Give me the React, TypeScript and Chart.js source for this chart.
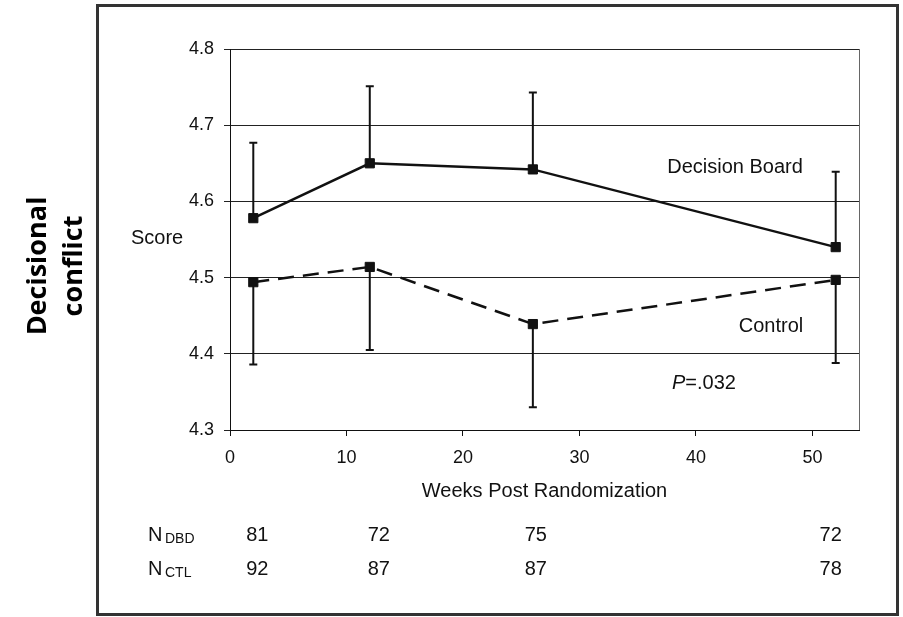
import React, { useEffect, useRef } from "react";
import { Chart, registerables } from "chart.js";

Chart.register(...registerables);

// ---- data ----
const WEEKS = [2, 12, 26, 52];
const DB_MEAN = [4.578, 4.65, 4.642, 4.54];
const DB_ERR = [0.099, 0.101, 0.101, 0.099];
const CTL_MEAN = [4.494, 4.514, 4.439, 4.497];
const CTL_ERR = [0.108, 0.109, 0.109, 0.109];
const N_DBD = [81, 72, 75, 72];
const N_CTL = [92, 87, 87, 78];
const X_TICKS = [0, 10, 20, 30, 40, 50];
const Y_TICKS = [4.3, 4.4, 4.5, 4.6, 4.7, 4.8];

const FONT = "'Liberation Sans', Arial, sans-serif";
const N_COL_SHIFT = [4, 9, 3, -5];

const errorBars = {
  id: "errorBars",
  beforeDatasetsDraw(chart: any) {
    const { ctx } = chart;
    const yScale = chart.scales.y;
    chart.data.datasets.forEach((ds: any, d: number) => {
      const meta = chart.getDatasetMeta(d);
      ctx.save();
      ctx.strokeStyle = "#111";
      ctx.lineWidth = 2;
      meta.data.forEach((pt: any, j: number) => {
        const v = ds.data[j].y + ds.errDir * ds.errors[j];
        const y1 = yScale.getPixelForValue(v);
        ctx.beginPath();
        ctx.moveTo(pt.x, pt.y);
        ctx.lineTo(pt.x, y1);
        ctx.moveTo(pt.x - 4, y1);
        ctx.lineTo(pt.x + 4, y1);
        ctx.stroke();
      });
      ctx.restore();
    });
  },
};

const decor = {
  id: "decor",
  beforeDraw(chart: any) {
    const { ctx, width, height } = chart;
    ctx.save();
    ctx.fillStyle = "#fff";
    ctx.fillRect(0, 0, width, height);
    ctx.restore();
  },
  afterDraw(chart: any) {
    const { ctx, chartArea } = chart;
    const xs = chart.scales.x;
    ctx.save();
    // right border of plot
    ctx.strokeStyle = "#666";
    ctx.lineWidth = 1;
    ctx.beginPath();
    ctx.moveTo(Math.round(chartArea.right) + 0.5, chartArea.top);
    ctx.lineTo(Math.round(chartArea.right) + 0.5, chartArea.bottom);
    ctx.stroke();

    // outer frame
    ctx.strokeStyle = "#333";
    ctx.lineWidth = 3;
    ctx.strokeRect(97.5, 5.5, 800, 609);

    ctx.fillStyle = "#111";
    ctx.textBaseline = "middle";
    ctx.font = `20px ${FONT}`;
    ctx.textAlign = "left";
    ctx.fillText("Score", 131, 238);
    ctx.textAlign = "center";
    ctx.fillText("Decision Board", 735, 167);
    ctx.fillText("Control", 771, 326);

    // P value
    ctx.textAlign = "left";
    ctx.font = `italic 20px ${FONT}`;
    ctx.fillText("P", 672, 383);
    const pw = ctx.measureText("P").width;
    ctx.font = `20px ${FONT}`;
    ctx.fillText("=.032", 672 + pw, 383);

    // N table
    ctx.textBaseline = "alphabetic";
    const rows = [
      { sub: "DBD", vals: N_DBD, base: 541 },
      { sub: "CTL", vals: N_CTL, base: 575 },
    ];
    rows.forEach((r) => {
      ctx.textAlign = "left";
      ctx.font = `20px ${FONT}`;
      ctx.fillText("N", 148, r.base);
      ctx.font = `14px ${FONT}`;
      ctx.fillText(r.sub, 165, r.base + 2);
      ctx.font = `20px ${FONT}`;
      ctx.textAlign = "center";
      r.vals.forEach((v, j) => {
        ctx.fillText(String(v), xs.getPixelForValue(WEEKS[j]) + N_COL_SHIFT[j], r.base);
      });
    });

    // rotated bold label
    ctx.font = `bold 27px 'Open Sans', sans-serif`;
    ctx.textAlign = "center";
    ctx.textBaseline = "middle";
    ctx.fillStyle = "#000";
    [["Decisional", 38], ["conflict", 74]].forEach(([t, x]) => {
      ctx.save();
      ctx.translate(x as number, 266);
      ctx.rotate(-Math.PI / 2);
      ctx.fillText(t as string, 0, 0);
      ctx.restore();
    });
    ctx.restore();
  },
};

export default function App() {
  const ref = useRef<HTMLCanvasElement | null>(null);
  useEffect(() => {
    if (!ref.current) return;
    Chart.defaults.font.family = FONT;
    Chart.defaults.color = "#111";
    const chart = new Chart(ref.current, {
      type: "line",
      data: {
        datasets: [
          {
            label: "Decision Board",
            data: WEEKS.map((w, i) => ({ x: w, y: DB_MEAN[i] })),
            errors: DB_ERR,
            errDir: 1,
            borderColor: "#111",
            backgroundColor: "#111",
            borderWidth: 2.5,
            pointStyle: "rect",
            pointRadius: 6.5,
            pointBorderWidth: 1,
            tension: 0,
          } as any,
          {
            label: "Control",
            data: WEEKS.map((w, i) => ({ x: w, y: CTL_MEAN[i] })),
            errors: CTL_ERR,
            errDir: -1,
            borderColor: "#111",
            backgroundColor: "#111",
            borderWidth: 2.5,
            borderDash: [16, 9],
            pointStyle: "rect",
            pointRadius: 6.5,
            pointBorderWidth: 1,
            tension: 0,
          } as any,
        ],
      },
      options: {
        animation: false,
        responsive: false,
        maintainAspectRatio: false,
        layout: { padding: { left: 0, top: 49, right: 44, bottom: 114 } },
        plugins: {
          legend: { display: false },
          tooltip: { enabled: false },
        },
        scales: {
          x: {
            type: "linear",
            min: 0,
            max: 54,
            afterBuildTicks: (s: any) => {
              s.ticks = X_TICKS.map((v) => ({ value: v }));
            },
            afterFit: (s: any) => {
              s.height = 73;
            },
            grid: { drawOnChartArea: false, drawTicks: true, tickLength: 6, color: "#111" },
            border: { display: true, color: "#111", width: 1 },
            ticks: { font: { size: 18 }, padding: 11, color: "#111", maxRotation: 0 },
            title: {
              display: true,
              text: "Weeks Post Randomization",
              font: { size: 20 },
              color: "#111",
              padding: { top: 0, bottom: 0 },
            },
          },
          y: {
            type: "linear",
            min: 4.3,
            max: 4.8,
            afterBuildTicks: (s: any) => {
              s.ticks = Y_TICKS.map((v) => ({ value: v }));
            },
            afterFit: (s: any) => {
              s.width = 230;
            },
            grid: { drawOnChartArea: true, drawTicks: true, tickLength: 6, color: "#222" },
            border: { display: true, color: "#111", width: 1 },
            ticks: {
              font: { size: 18 },
              padding: 10,
              color: "#111",
              callback: (v: any) => Number(v).toFixed(1),
            },
          },
        },
      },
      plugins: [errorBars, decor],
    });
    return () => chart.destroy();
  }, []);
  return (
    <div style={{ position: "absolute", left: 0, top: 0, width: 903, height: 617 }}>
      <canvas ref={ref} width={903} height={617} style={{ width: 903, height: 617 }} />
    </div>
  );
}
